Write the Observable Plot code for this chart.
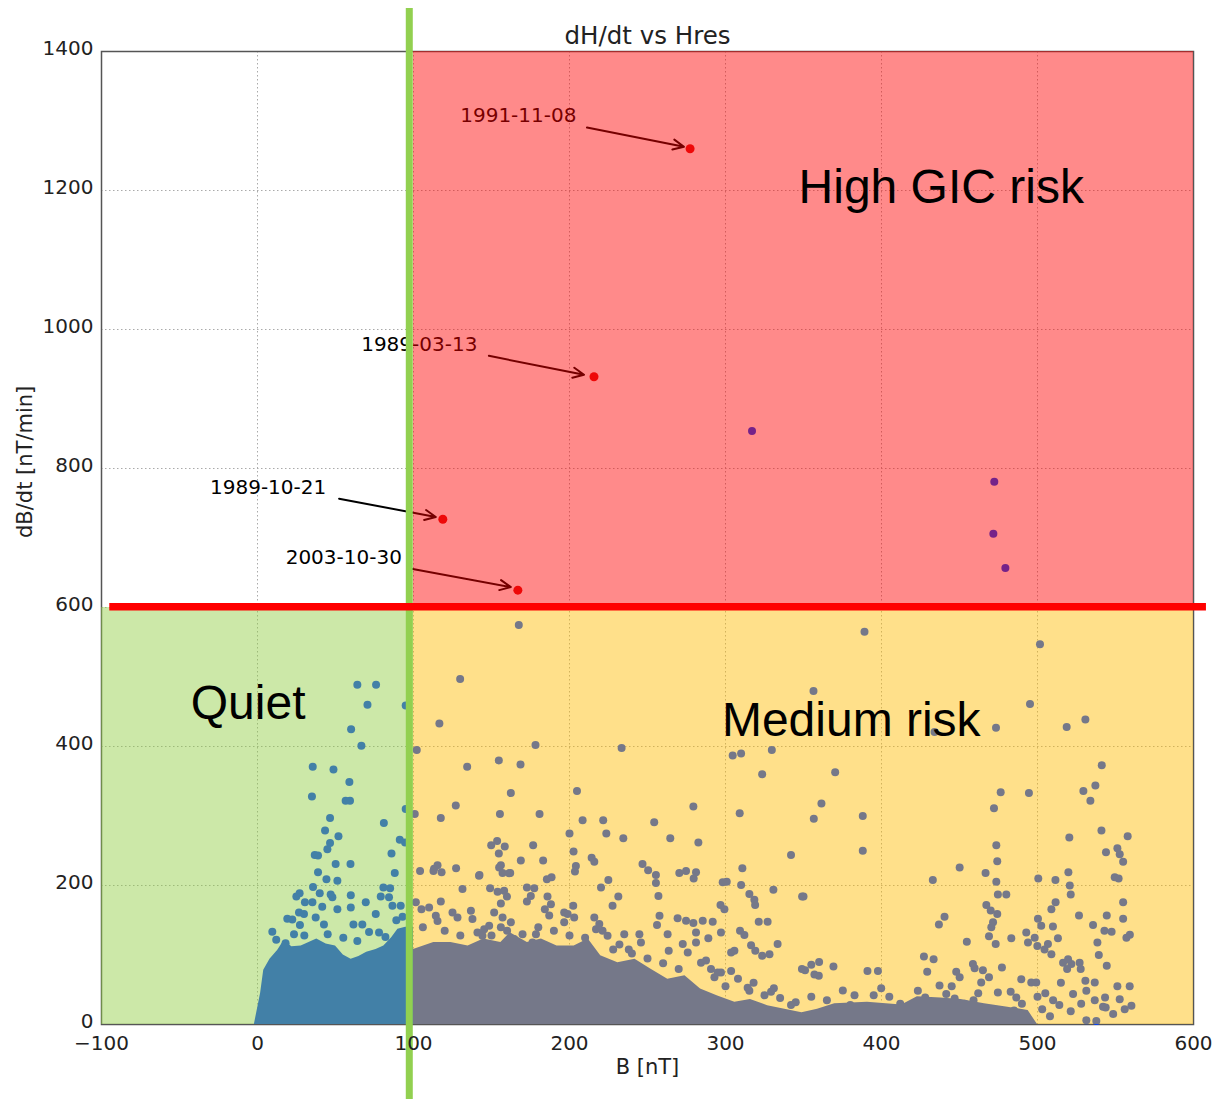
<!DOCTYPE html>
<html>
<head>
<meta charset="utf-8">
<script src="https://cdn.jsdelivr.net/npm/d3@7"></script>
<script src="https://cdn.jsdelivr.net/npm/@observablehq/plot@0.6"></script>
<style>
  html, body { margin: 0; padding: 0; background: #fff; }
  #chart svg { display: block; }
</style>
</head>
<body>
<div id="chart"></div>
<script>
// ---------- data ----------
const xTicks = [-100, 0, 100, 200, 300, 400, 500, 600];
const yTicks = [0, 200, 400, 600, 800, 1000, 1200, 1400];

const titleText = "dH/dt vs Hres";
const xLabel = "B [nT]";
const yLabel = "dB/dt [nT/min]";

// risk zones
const zoneNames = ["Quiet", "Medium risk", "High GIC risk"];
const zoneBFrom = [-100, 100, 100];
const zoneBTo = [100, 600, 600];
const zoneDFrom = [0, 0, 600];
const zoneDTo = [600, 600, 1400];

// threshold lines
const quietLimitB = 97.3;
const riskLimitDBdt = 601;

// named storms
const stormDates = ["1991-11-08", "1989-03-13", "1989-10-21", "2003-10-30"];
const stormB = [277.3, 215.7, 118.8, 166.9];
const stormDBdt = [1260, 932, 727, 625];

// dense core of the quiet cloud (upper envelope)
const quietCoreB = [-2, 2, 4, 8, 13, 17, 22, 28, 33, 38, 44, 50, 55, 60, 65, 70, 76, 81, 86, 90, 95, 100];
const quietCoreTop = [0, 45, 78, 94, 107, 121, 112, 113, 118, 123, 116, 113, 100, 94, 98, 104, 108, 113, 125, 137, 140, 140];

// dense core of the active cloud (upper envelope)
const activeCoreB = [100, 113, 124, 135, 145, 156, 162, 173, 182, 192, 203, 212, 220, 231, 242, 252, 263, 274, 284, 295, 306, 316, 327, 338, 349, 359, 370, 391, 413, 423, 438, 451, 466, 481, 494, 500];
const activeCoreTop = [108, 118, 118, 113, 123, 118, 132, 118, 123, 113, 113, 123, 99, 89, 94, 80, 65, 70, 51, 41, 32, 36, 27, 22, 17, 22, 30, 32, 28, 40, 38, 36, 30, 25, 20, 0];

// individual scattered observations [B, dB/dt]
const scatterPoints = [
  [64,489],[76,489],[70.5,460],[60,425],[66.6,401],[35.4,371],[48.7,367],[58.9,349],[34.9,328],[56.5,322],
  [59.3,322],[46.5,297],[81,290],[43.3,279],[51.9,271],[46.5,261],[44.8,252],[91.2,266],[36.7,244],[38.8,243],
  [85.9,246],[50.1,231],[59.6,231],[38.8,219],[88,218],[95,310],[94.6,262],[95,459],[44.2,209],[51.2,207],
  [35.6,198],[39.9,189],[24.9,184],[27,189],[46.9,187],[48,183],[59.8,186],[80.7,197],[85,196],[79,184],
  [84.3,183],[30.4,176],[35.2,176],[41.5,169.5],[59.8,168.5],[69.4,176],[86.5,171],[91.8,171],[26.6,161],[29.8,159],
  [51.2,166],[75.8,159],[19.1,152],[22.3,151],[37.3,154],[42.6,144],[61.5,144],[67.2,144],[9.5,133.5],[27.2,143],
  [71.5,133],[77.9,132.5],[23.4,130],[18,117],[12,122],[30,128],[45,130],[55,125],[64,120],[82,126],[89,150],[93,155],
  [317,854],[472.3,781],[471.7,706],[479.4,657],
  [167.5,575],[129.9,497],[116.6,433],[102.1,395],[178.2,402],[233.4,398],[304.6,387],[310,390],[329.7,395],[323.5,360],
  [356.4,480],[154.7,380],[168.6,374],[134.4,371],[162.4,333],[204.8,336],[127.1,315],[279.4,313.5],[309.1,304],[356.6,296],
  [100.8,303],[117.5,297],[155.4,303],[180.8,303],[208.4,294],[221.6,294],[254.3,291],[223.6,275],[200,275],[234.5,268],
  [264.6,268],[282.6,262],[342,244],[153.6,264],[149.8,258],[158.5,256],[176.7,258],[154.7,246],[202.6,249],[214.2,240],
  [215.9,234],[168.8,236],[183.1,236],[246.8,231],[250.4,222],[255.4,215],[310.8,225],[127.3,225],[115.4,229],[112.8,221],
  [118,219],[104.2,221],[142,214],[156,229],[157.1,218],[162,218],[204.1,228],[203.5,220],[270.4,218],[274.7,221],
  [281.1,219],[279.6,210],
  [389.1,565],[501.6,547],[495.2,461],[530.7,439],[518.7,428],[473.4,427],[434,421],[370.3,363],[541.2,373],[537.1,344],
  [529.4,336],[533.9,322],[476.4,334],[494.5,333],[472.1,311],[361.5,318],[388,300],[388,250],[541,279],[557.8,271],
  [520.4,269],[473.6,258],[474.2,235],[543.9,248],[551.2,253.5],[552.7,245],[554.9,234],[450.1,226],[466.7,218],[519.8,219],
  [500.5,210],[511.5,208],[549.5,212],[552,210],[432.9,208],
  [473.6,205.5],[520.7,200],[521.3,187],[554.9,176],[474.6,187],[480,187],[349.1,184],[467.2,172],[470,164],[474.2,159],
  [471.5,147],[470.4,140],[473.2,116],[468.9,127],[483.2,124],[508.9,166],[511.6,176],[500.3,152],[502.4,142],[509.9,141],
  [492.8,132.5],[498.2,125],[493.9,118],[499.9,113],[513.1,124],[506.7,116],[504.5,108],[508.9,101],[526.6,157],[535.6,143],
  [544.4,157],[542.9,135],[547.5,133.5],[538.4,118],[539.3,100],[544.4,84.5],[554.9,152],[557,125],[559.2,129],[454.7,119],
  [440.4,155],[436.8,144],[427.2,98],[433.4,94],[429.3,76],[369.2,83.5],[391,77],[397.7,77],[359.8,70],[458.6,87],
  [459.7,81],[465,78],[468.9,68],[447.9,76],[450.1,68],[463.9,60.5],[477.2,82],[489.6,65],[496,60.5],[499.2,60.5],
  [516.4,89],[519.6,94],[521.7,87],[519,80],[527,89],[527.7,80],[530.7,63],[536.7,60.5],[531.3,48.5],[522.8,44],
  [521.3,19],[531.3,6],[537.7,5],[536.7,35],[543.3,39],[542,25.5],[548.5,15],[543.7,24.5],[551.2,55],[559.1,55],
  [552.7,36.5],[555.9,22],[560.2,27],[474.6,46],[482.8,47],[486.4,39],[375.2,49],[382.7,42],[399.8,52],[423.3,48.5],
  [428,39],[419,27],[437.2,56],[441.5,44],[446.9,37.5],[453.3,30],[459,35],
  [505,45],[510,35],[514,28],[503,22],[508,12],[490,30],[485,20],[470,18],[462,45],[445,55],[405,40],[412,30],[395,42],
  [365,35],[355,40],[345,32],[335,38],[325,42],[318,60],[308,66],[300,55],[270,80],[260,88],[250,95],[240,102],[228,108],
  [342,28],[380,28],[450,20],[528,30],[515,60],[500,40],
  [142.3,215],[154.9,226],[161.3,217.5],[113.2,224],[185.5,209],[188.5,212],[220.2,197],[224.9,208],[231.3,184],[227.6,171],
  [202.4,171],[255.4,203.5],[310,200.7],[298.2,204.5],[300.8,205.5],[330.7,194],[350,184],[315.3,187.7],[318.5,179.6],[319,172],
  [257,185],[257.7,156.5],[256.1,143],[269.3,152.7],[274.7,149.4],[279.4,146],[285.4,149.4],[291.8,148],[321.3,148],[327,148],
  [296.8,172],[299.3,166],[309.3,135],[312.1,128.7],[333.4,115.7],[316.4,114],[319.1,106],[323.5,99],[328.2,101],[262.9,130],
  [263.6,106],[272.6,115.7],[275.8,103.7],[281.1,132.5],[289,124],[281.1,118],[297.1,132.5],[303.6,103.7],[305.7,106],[351,78],
  [355,86],[360,90],[349,80],[357,72],[331,52],[329.2,47],[314.2,53],[315.3,48.5],[297.1,75],[303.6,77],
  [292.9,68],[284.3,89],[287.5,92],[290.7,80],[295,75],
  [131.4,195],[149.1,196],[153.9,191],[158.1,192.6],[159.9,184],[172.7,197],[177.4,196],[175.2,185],[172.7,177],[185.9,184],
  [188.1,173],[184.2,166],[187,157],[117.5,177],[101.5,176],[105.1,166],[110,168.5],[125,161],[136.8,163.7],[128.2,154],
  [137.8,151.7],[196.6,161],[198.8,159],[196.6,147],[203,154],[215.9,154],[219.1,144.5],[221.2,135],[217,137],[224.4,127.7],
  [141,132.5],[144.2,127.7],[145.3,137],[114.3,156.5],[115.4,149],[235.1,130],[244.8,130],[245.8,118],[169.9,130],[164.5,123],
  [166.7,115.7],[176.3,118],[178.5,130],
  [156,174],[151.7,161],[157.1,154],[148.5,142],[156,140],[162.4,147],[106,140],[120,135],[130,128],[150,128],[190,135],
  [200,128],[210,125],[232,115],[238,108],[160,135],[180,140]
];

// ---------- layout (annotation placement, data units) ----------
const stormLabelB = [167.2, 103.7, 6.8, 55.3];
const stormLabelD = [1299, 969.3, 763.8, 663];
const stormArrowFromB = [211.2, 148.3, 52.3, 99.5];
const stormArrowFromD = [1290.5, 962.1, 756.6, 655.3];
const stormArrowToB = [273.4, 209.3, 114.3, 162.4];
const stormArrowToD = [1263, 934.8, 730.2, 629.4];
const zoneLabelB = [-6, 380.6, 438.3];
const zoneLabelD = [439.7, 415.8, 1182.5];

// ---------- styles ----------
const pointBlue = "#0040fe";
const stormRed = "#e01010";
const zoneColors = ["#90cc42", "#ffbc00", "#ff0000"];
const zoneOpacity = 0.46;

// ---------- tables ----------
const zones = zoneNames.map((name, i) => ({
  name, x1: zoneBFrom[i], x2: zoneBTo[i], y1: zoneDFrom[i], y2: zoneDTo[i],
  color: zoneColors[i], lx: zoneLabelB[i], ly: zoneLabelD[i]
}));
const storms = stormDates.map((date, i) => ({
  date, B: stormB[i], D: stormDBdt[i],
  lx: stormLabelB[i], ly: stormLabelD[i],
  ax1: stormArrowFromB[i], ay1: stormArrowFromD[i], ax2: stormArrowToB[i], ay2: stormArrowToD[i]
}));
const quietCore = quietCoreB.map((B, i) => ({B, top: quietCoreTop[i]}));
const activeCore = activeCoreB.map((B, i) => ({B, top: activeCoreTop[i]}));
const cloud = scatterPoints.map(([B, D]) => ({B, D}));

const fmt = d3.format("d");

const chart = Plot.plot({
  width: 1218,
  height: 1099,
  marginLeft: 101,
  marginRight: 25,
  marginTop: 51,
  marginBottom: 75,
  x: {domain: [-100, 600]},
  y: {domain: [0, 1400]},
  color: {type: "identity"},
  style: {fontFamily: "DejaVu Sans", background: "white", color: "#222"},
  marks: [
    Plot.ruleX(xTicks.filter(v => v > -100 && v < 600), {stroke: "#aaa", strokeDasharray: "1.5,2.5"}),
    Plot.ruleY(yTicks.filter(v => v > 0 && v < 1400), {stroke: "#aaa", strokeDasharray: "1.5,2.5"}),
    Plot.frame({stroke: "#555", strokeWidth: 1.5}),
    Plot.areaY(quietCore, {x: "B", y: "top", fill: pointBlue}),
    Plot.areaY(activeCore, {x: "B", y: "top", fill: pointBlue}),
    Plot.dot(cloud, {x: "B", y: "D", r: 4, fill: pointBlue}),
    Plot.dot(storms, {x: "B", y: "D", r: 4.5, fill: stormRed}),
    Plot.arrow(storms, {x1: "ax1", y1: "ay1", x2: "ax2", y2: "ay2", stroke: "black", strokeWidth: 2, headLength: 9, headAngle: 50}),
    Plot.text(storms, {x: "lx", y: "ly", text: "date", fontSize: 20, lineAnchor: "bottom", fill: "black"}),
    Plot.rect(zones, {x1: "x1", x2: "x2", y1: "y1", y2: "y2", fill: "color", fillOpacity: zoneOpacity}),
    Plot.text(zones, {x: "lx", y: "ly", text: "name", fontSize: 48, fontFamily: "Liberation Sans", lineAnchor: "bottom", fill: "black"}),
    Plot.ruleX([quietLimitB], {y1: -111, y2: 1462, stroke: "#92d050", strokeWidth: 7}),
    Plot.ruleY([riskLimitDBdt], {x1: -94.7, x2: 608.3, stroke: "#ff0000", strokeWidth: 7.5}),
    Plot.axisX({ticks: xTicks, tickFormat: fmt, tickSize: 0, tickPadding: 11, fontSize: 20, label: null}),
    Plot.axisY({ticks: yTicks, tickFormat: fmt, tickSize: 0, tickPadding: 8, dy: -3, fontSize: 20, label: null}),
    Plot.text([titleText], {frameAnchor: "top", dy: -8, lineAnchor: "bottom", fontSize: 24.5, fill: "#222"}),
    Plot.text([xLabel], {frameAnchor: "bottom", dy: 49, lineAnchor: "bottom", fontSize: 21, fill: "#222"}),
    Plot.text([yLabel], {frameAnchor: "left", dx: -76, rotate: -90, lineAnchor: "middle", fontSize: 21, fill: "#222"})
  ]
});
document.getElementById("chart").appendChild(chart);
</script>
</body>
</html>
